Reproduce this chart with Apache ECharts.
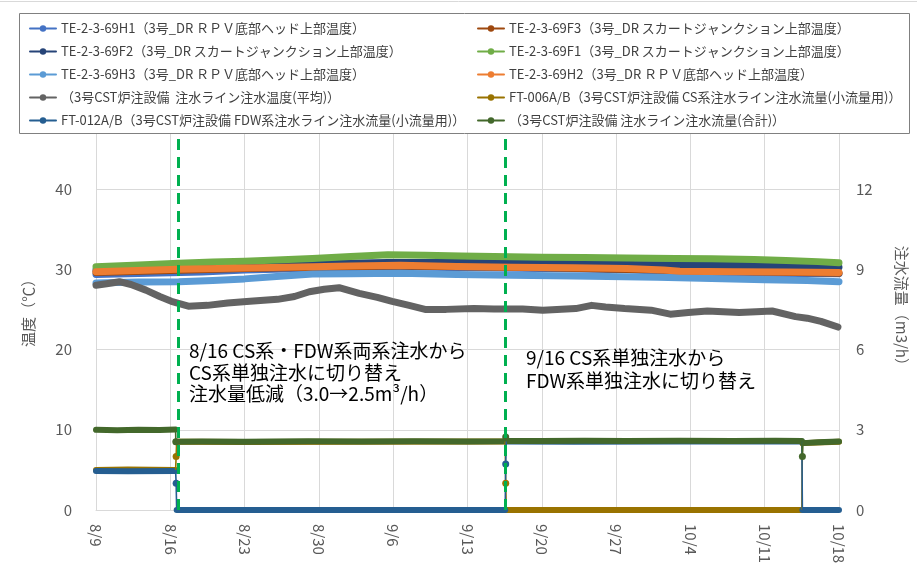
<!DOCTYPE html>
<html><head><meta charset="utf-8">
<script src="https://cdn.jsdelivr.net/npm/echarts@6/dist/echarts.min.js"></script>
<style>html,body{margin:0;padding:0;background:#fff}#c{width:917px;height:574px}</style>
</head><body><div id="c"></div>
<script>
// x values are days since 8/9
const tickLabels = ['8/9','8/16','8/23','8/30','9/6','9/13','9/20','9/27','10/4','10/11','10/18'];
const switchDays = [7.79, 38.6];

const nameH1 = 'TE-2-3-69H1（3号_DR ＲＰＶ底部ヘッド上部温度）';
const nameF3 = 'TE-2-3-69F3（3号_DR スカートジャンクション上部温度）';
const nameF2 = 'TE-2-3-69F2（3号_DR スカートジャンクション上部温度）';
const nameF1 = 'TE-2-3-69F1（3号_DR スカートジャンクション上部温度）';
const nameH3 = 'TE-2-3-69H3（3号_DR ＲＰＶ底部ヘッド上部温度）';
const nameH2 = 'TE-2-3-69H2（3号_DR ＲＰＶ底部ヘッド上部温度）';
const nameCST = '（3号CST炉注設備  注水ライン注水温度(平均)）';
const nameFT006 = 'FT-006A/B（3号CST炉注設備 CS系注水ライン注水流量(小流量用)）';
const nameFT012 = 'FT-012A/B（3号CST炉注設備 FDW系注水ライン注水流量(小流量用)）';
const nameTotal = '（3号CST炉注設備 注水ライン注水流量(合計)）';

// temperatures (℃)
const tempH1 = [[0,29.35],[5,29.5],[10,29.65],[14,29.9],[20,30.1],[28,30.3],[35,30.2],[42,30.1],[50,29.95],[56,29.6],[63,29.5],[70,29.45]];
const tempF3 = [[0,29.6],[14,30.1],[28,30.4],[42,30.2],[56,29.8],[70,29.5]];
const tempF2 = [[0,29.9],[7,30.1],[14,30.3],[20.4,30.7],[27.5,30.85],[34.4,30.85],[37.5,30.8],[42,30.75],[46,30.7],[50,30.6],[55,30.55],[60,30.5],[65,30.45],[70,30.25]];
const tempF1 = [[0,30.3],[3.5,30.5],[7.8,30.75],[11,30.9],[14,31.0],[17,31.15],[20.4,31.35],[24,31.6],[27.5,31.8],[31,31.75],[34.4,31.65],[37.5,31.6],[42,31.5],[46,31.45],[50,31.4],[54.6,31.35],[58,31.3],[62,31.2],[65,31.1],[68,30.95],[70,30.8]];
const tempH3 = [[0,28.3],[4,28.4],[7.8,28.45],[11,28.6],[14,28.8],[17,29.1],[20.4,29.4],[24,29.45],[28.7,29.5],[34,29.35],[39.2,29.25],[45,29.15],[52.9,29.0],[58,28.85],[63,28.7],[67,28.6],[70,28.45]];
const tempH2 = [[0,29.7],[7.8,30.0],[14,30.15],[20.4,30.3],[24,30.4],[28.7,30.5],[34,30.35],[39.2,30.25],[45,30.2],[50,30.1],[53.5,29.9],[55,29.75],[60,29.7],[65,29.65],[70,29.6]];
const tempCST = [[0,28.0],[1,28.2],[2.2,28.45],[3.3,28.1],[4.7,27.4],[6,26.6],[7.1,26.0],[8.7,25.4],[10.5,25.5],[12.4,25.8],[14.5,26.0],[17.1,26.25],[18.7,26.6],[20.1,27.2],[21.5,27.5],[22.9,27.7],[24.8,27.0],[26.5,26.5],[27.9,26.0],[29.5,25.5],[31,25.0],[33,25.0],[35.6,25.1],[37.5,25.05],[40.2,25.05],[42.1,24.9],[45.2,25.1],[46.7,25.5],[48,25.3],[49.8,25.1],[52.3,24.9],[54.1,24.4],[55.8,24.6],[57.6,24.8],[60.6,24.6],[62.2,24.7],[63.7,24.8],[65.9,24.1],[67,23.9],[68.3,23.5],[69.9,22.8]];

// flows (m3/h); null separates steady segments
const flowFT006 = [[0,1.5],[3,1.51],[7.5,1.5],[7.55,null],[7.6,2.55],[14,2.54],[25,2.55],[38.55,2.56],[38.6,null],[38.65,0],[50,0],[66.5,0],[66.52,null],[66.55,2.5],[70,2.55]];
const flowFT012 = [[0,1.46],[3,1.45],[7.5,1.46],[7.55,null],[7.6,0],[20,0],[38.55,0],[38.6,null],[38.65,2.56],[45,2.55],[55,2.56],[66.5,2.56],[66.52,null],[66.55,0],[70,0]];
const flowTotal = [[0,3.0],[2,2.98],[4,3.0],[6,2.99],[7.5,3.01],[7.51,null],[7.52,2.55],[10,2.56],[14,2.55],[20,2.57],[25,2.56],[30,2.57],[35,2.56],[38.55,2.57],[38.6,null],[38.65,2.58],[42,2.58],[46,2.59],[50,2.58],[55,2.59],[60,2.58],[64,2.59],[66.5,2.58],[66.52,null],[66.6,2.5],[68,2.53],[70,2.56]];
// transitions: [x, y, isDot]
const stepFT006 = [[7.5,1.5,0],[7.55,2.0,1],[7.6,2.55,0],null,[38.55,2.56,0],[38.6,1.0,1],[38.65,0,0],null,[66.5,0,0],[66.55,2.5,0]];
const stepFT012 = [[7.5,1.46,0],[7.55,1.0,1],[7.6,0,0],null,[38.55,0,0],[38.6,1.72,1],[38.65,2.56,0],null,[66.5,2.56,0],[66.55,0,0]];
const stepTotal = [[7.5,3.01,0],[7.52,2.55,1],null,[38.6,2.73,1],null,[66.5,2.58,0],[66.55,2.0,1],[66.6,2.5,0]];

const FONT = 'Noto Sans CJK JP';
function mainSeries(name, data, color, yi, width) {
  return {name, type:'line', data, yAxisIndex: yi, symbol:'none', clip:false,
    color, lineStyle:{color, width, cap:'round', join:'round'}, itemStyle:{color}, z:2};
}
function stepSeries(data, color) {
  return {type:'line', yAxisIndex:1, clip:false, color, showSymbol:true, showAllSymbol:true,
    symbol:'none', silent:true, z:3,
    lineStyle:{color, width:1.6}, itemStyle:{color},
    data: data.map(d => d === null ? [null,null] : (d[2] ? {value:[d[0],d[1]], symbol:'circle', symbolSize:7} : [d[0],d[1]]))};
}

const series = [
  mainSeries(nameH1, tempH1, '#4472C4', 0, 7),
  mainSeries(nameF3, tempF3, '#9E480E', 0, 7),
  mainSeries(nameF2, tempF2, '#264478', 0, 7),
  mainSeries(nameF1, tempF1, '#70AD47', 0, 7),
  mainSeries(nameH3, tempH3, '#5B9BD5', 0, 7),
  mainSeries(nameH2, tempH2, '#ED7D31', 0, 7),
  mainSeries(nameCST, tempCST, '#636363', 0, 7),
  mainSeries(nameFT006, flowFT006, '#997300', 1, 6),
  mainSeries(nameFT012, flowFT012, '#255E91', 1, 6),
  mainSeries(nameTotal, flowTotal, '#43682B', 1, 6),
  stepSeries(stepFT006, '#997300'),
  stepSeries(stepFT012, '#255E91'),
  stepSeries(stepTotal, '#43682B')
];
series[6].markLine = {silent:true, symbol:['none','none'], label:{show:false},
  lineStyle:{color:'#00B050', width:3, type:[11,7]},
  data: switchDays.map(d => ({xAxis:d}))};

const legendCommon = {orient:'vertical', itemWidth:26, itemHeight:8, itemGap:10, z:101,
  textStyle:{fontFamily:FONT, fontSize:13, color:'#404040'}, lineStyle:{width:2}, selectedMode:false};

const option = {
  animation:false,
  backgroundColor:'#fff',
  textStyle:{fontFamily:FONT},
  grid:{left:96, right:66, top:108.75, bottom:64},
  legend:[
    Object.assign({left:24, top:17, data:[nameH1,nameF2,nameH3,nameCST,nameFT012]}, legendCommon),
    Object.assign({left:472, top:17, data:[nameF3,nameF1,nameH2,nameFT006,nameTotal]}, legendCommon)
  ],
  xAxis:{type:'value', min:0, max:70, interval:7,
    axisLine:{show:true, lineStyle:{color:'#d9d9d9'}}, axisTick:{show:false},
    splitLine:{show:true, lineStyle:{color:'#d9d9d9'}},
    axisLabel:{rotate:-90, margin:14, color:'#595959', fontSize:15, fontFamily:FONT,
      formatter: v => tickLabels[Math.round(v/7)] || ''}},
  yAxis:[
    {type:'value', min:0, max:50, interval:10, name:'温度（℃）', nameLocation:'middle', nameGap:60, nameRotate:90,
      nameTextStyle:{color:'#595959', fontSize:15, fontFamily:FONT},
      axisLine:{show:false}, axisTick:{show:false},
      splitLine:{lineStyle:{color:'#d9d9d9'}},
      axisLabel:{margin:24, color:'#595959', fontSize:15, fontFamily:FONT}},
    {type:'value', min:0, max:15, interval:3, name:'注水流量（m3/h）', nameLocation:'middle', nameGap:55, nameRotate:-90,
      nameTextStyle:{color:'#595959', fontSize:15, fontFamily:FONT},
      axisLine:{show:false}, axisTick:{show:false}, splitLine:{show:false},
      axisLabel:{margin:17, color:'#595959', fontSize:15, fontFamily:FONT}}
  ],
  graphic:[
    {type:'line', shape:{x1:0,y1:1.5,x2:917,y2:1.5}, style:{stroke:'#d9d9d9', lineWidth:1}, z:100},
    {type:'rect', shape:{x:19.5,y:13.5,width:890,height:120}, style:{fill:'#fff', stroke:'#808080', lineWidth:1}, z:100},
    {type:'text', left:189, top:340, z:100, style:{text:'8/16 CS系・FDW系両系注水から\nCS系単独注水に切り替え\n注水量低減（3.0→2.5m³/h）',
      font:'19px "Noto Sans CJK JP"', fill:'#000', lineHeight:21.7}},
    {type:'text', left:526, top:346, z:100, style:{text:'9/16 CS系単独注水から\nFDW系単独注水に切り替え',
      font:'19px "Noto Sans CJK JP"', fill:'#000', lineHeight:23.5}}
  ],
  series
};
const chart = echarts.init(document.getElementById('c'), null, {renderer:'canvas'});
chart.setOption(option);
</script></body></html>
